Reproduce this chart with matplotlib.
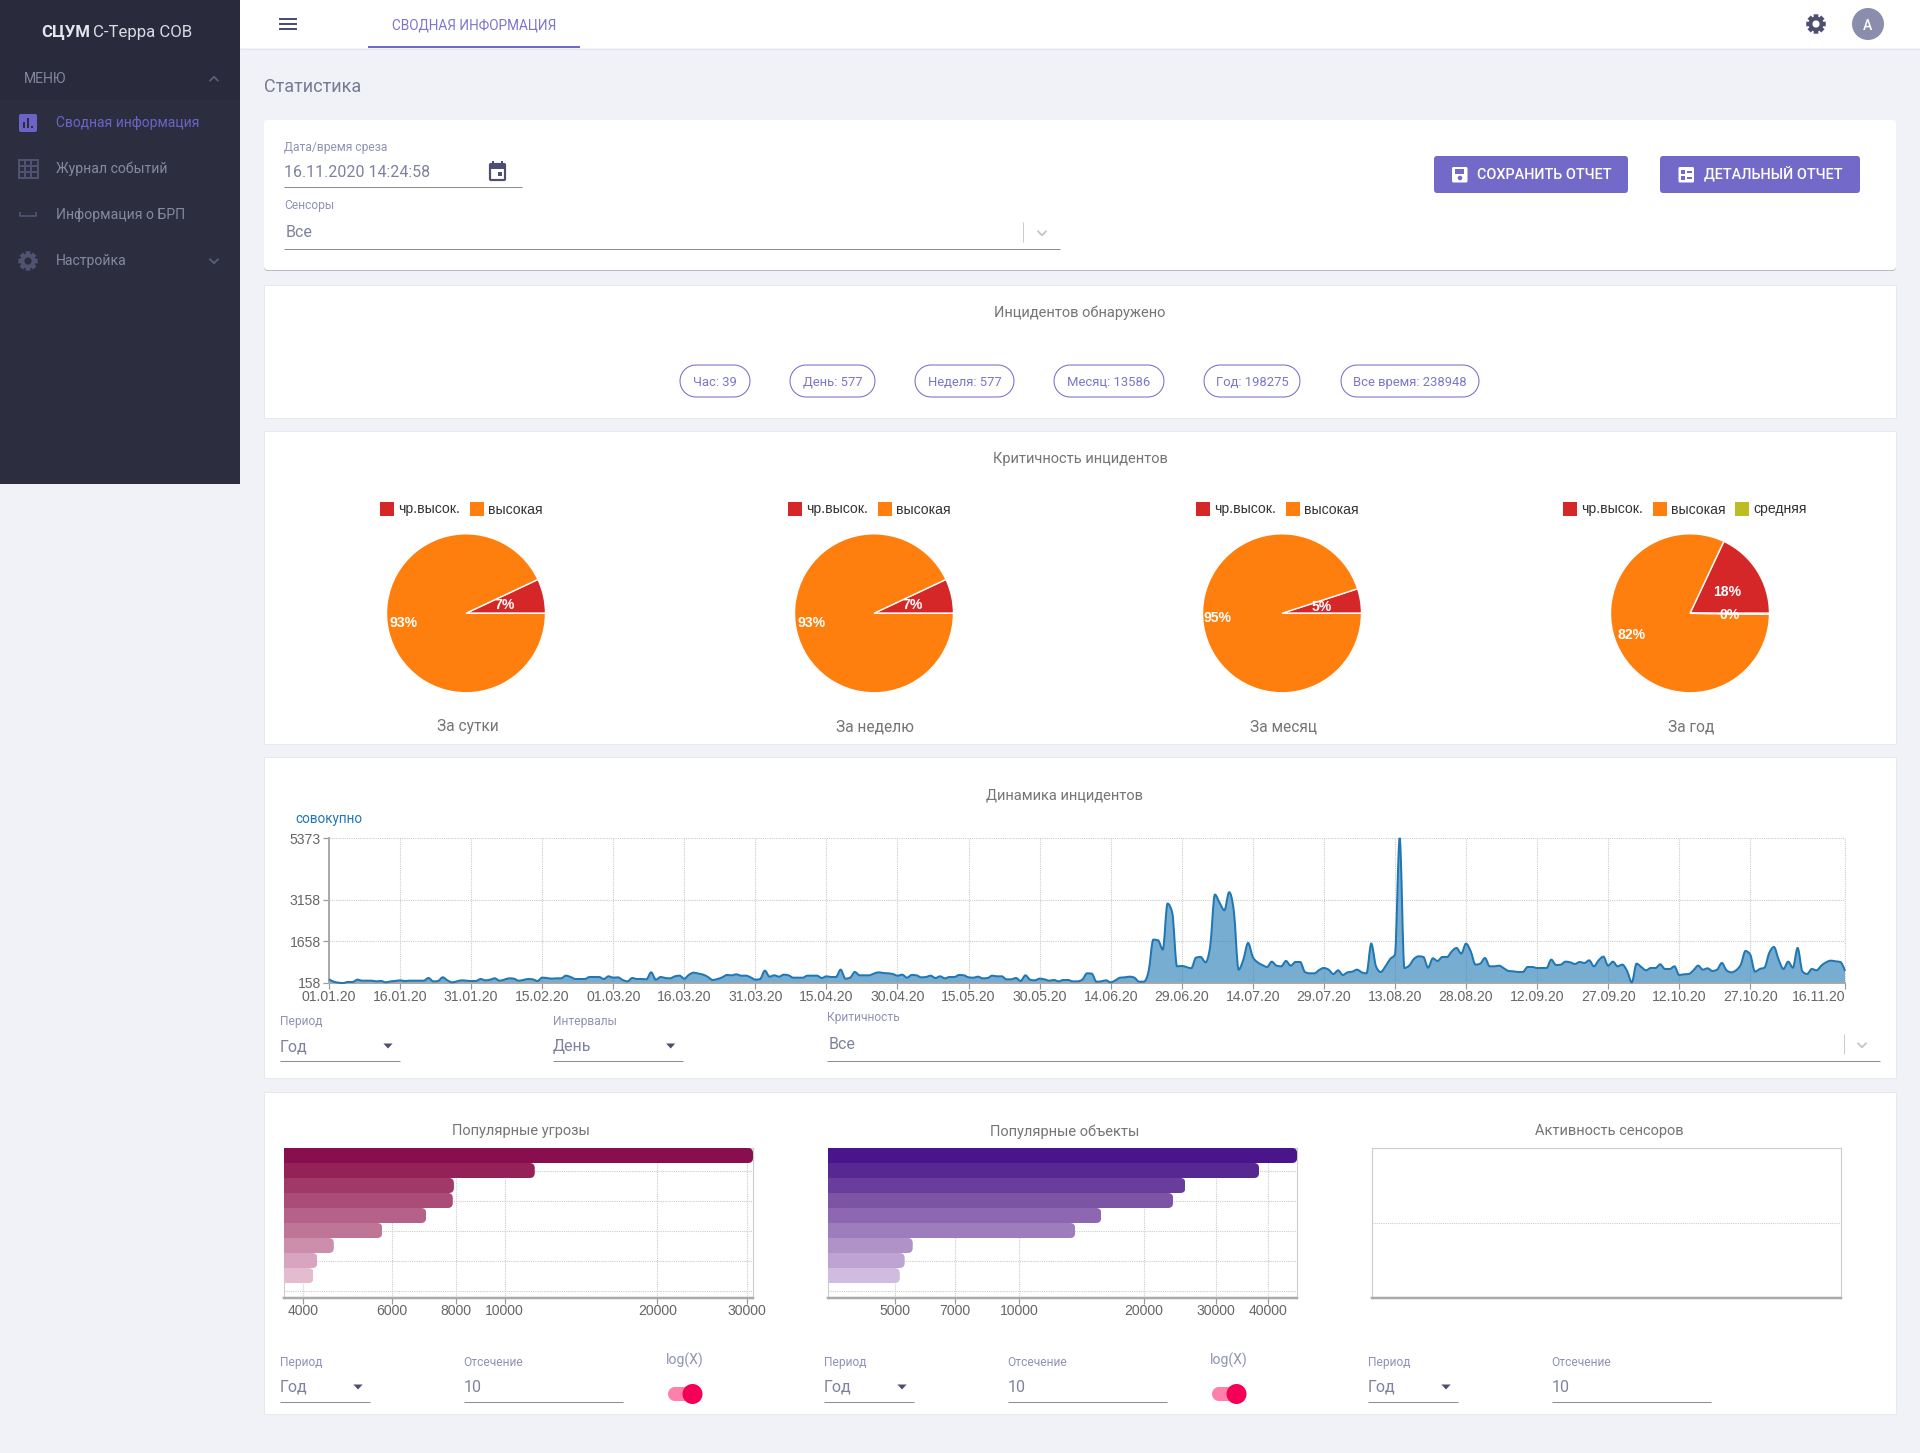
import numpy as np
import pandas as pd
import matplotlib
matplotlib.use("Agg")
import matplotlib.pyplot as plt
import matplotlib.ticker
from matplotlib.patches import FancyBboxPatch, Rectangle, Circle, Polygon, PathPatch
from matplotlib.path import Path
from matplotlib.transforms import IdentityTransform
import matplotlib.dates as mdates

plt.rcParams['font.family'] = ['Roboto', 'DejaVu Sans']

# ---------- data ----------
pie_titles = ['За сутки', 'За неделю', 'За месяц', 'За год']
pie_names = ['чр.высок.', 'высокая', 'средняя']
pie_colors = ['#d62728', '#ff7f0e', '#bcbd22']
pie_values = [[7, 93], [7, 93], [5, 95], [18, 81.8, 0.2]]
pie_labels = [['7%', '93%'], ['7%', '93%'], ['5%', '95%'], ['18%', '82%', '0%']]

incident_chips = ['Час: 39', 'День: 577', 'Неделя: 577', 'Месяц: 13586', 'Год: 198275', 'Все время: 238948']

line_start = '2020-01-01'
line_tick_labels = ['01.01.20', '16.01.20', '31.01.20', '15.02.20', '01.03.20', '16.03.20', '31.03.20',
                    '15.04.20', '30.04.20', '15.05.20', '30.05.20', '14.06.20', '29.06.20', '14.07.20',
                    '29.07.20', '13.08.20', '28.08.20', '12.09.20', '27.09.20', '12.10.20', '27.10.20', '16.11.20']
line_y_ticks = [158, 1658, 3158, 5373]
incidents = [
    290, 206, 170, 158, 194, 194, 278, 242, 242, 242, 218, 230, 182, 218, 230, 254,
    230, 242, 242, 242, 242, 338, 218, 230, 362, 254, 182, 218, 254, 242, 230,
    230, 302, 254, 278, 326, 242, 278, 326, 314, 242, 266, 302, 290, 230, 350,
    338, 314, 326, 326, 422, 374, 302, 302, 302, 374, 374, 374, 302, 398, 350,
    362, 266, 218, 338, 302, 302, 290, 542, 278, 374, 338, 326, 398, 422, 314,
    458, 530, 494, 458, 374, 266, 302, 362, 446, 434, 470, 422, 422, 362, 278,
    302, 602, 386, 434, 386, 458, 434, 350, 350, 350, 422, 422, 422, 338, 398,
    374, 374, 638, 314, 350, 554, 434, 434, 434, 494, 542, 518, 506, 482, 422,
    458, 350, 446, 434, 362, 374, 422, 338, 398, 326, 374, 374, 446, 434, 362,
    350, 386, 326, 338, 422, 398, 398, 290, 290, 338, 230, 434, 278, 254, 314,
    290, 242, 266, 218, 266, 266, 218, 218, 278, 506, 494, 206, 218, 254, 182,
    254, 350, 362, 386, 350, 206, 206, 578, 1718, 1694, 1358, 3014, 2678, 758, 770,
    734, 686, 1070, 1094, 902, 1478, 3338, 3038, 2774, 3422, 2738, 638, 998, 1598, 1094,
    902, 806, 734, 926, 782, 758, 950, 782, 914, 914, 554, 506, 506, 626,
    698, 638, 482, 614, 446, 542, 566, 638, 542, 506, 1574, 758, 554, 758, 1022, 1178,
    5373,
    698, 782, 1022, 1118, 1094, 710, 1046, 950, 1094, 1094, 1298, 1418, 1214, 1574,
    1298, 818, 854, 1058, 758, 758, 782, 686, 590, 578, 554, 554, 734, 734, 698,
    698, 698, 998, 806, 818, 926, 902, 842, 914, 878, 974, 758, 974, 1106, 782,
    926, 758, 818, 590, 182, 854, 734, 614, 698, 698, 830, 662, 662, 758, 446,
    470, 482, 614, 782, 638, 686, 590, 638, 878, 614, 542, 614, 818, 1310, 1178,
    566, 662, 710, 1238, 1454, 998, 662, 926, 710, 1418, 578, 482, 662, 614, 782, 902, 962, 938, 914, 590,
]

threat_values = [30855, 11460, 7940, 7900, 7000, 5735, 4604, 4271, 4198]
threat_colors = ['#880e4f', '#942259', '#a03868', '#ab4c78', '#b56189', '#bf7596', '#cc8eac', '#d8a4bf', '#e5bbd0']
threat_ticks = [4000, 6000, 8000, 10000, 20000, 30000]
threat_xlim = (3674, 30855)
object_values = [47050, 38060, 25240, 23570, 15790, 13660, 5525, 5283, 5140]
object_colors = ['#4a148c', '#572891', '#693d9c', '#7b54a6', '#8e67b3', '#9d7dbd', '#ae92c8', '#bda4d3', '#d0bbe1']
object_ticks = [5000, 7000, 10000, 20000, 30000, 40000]
object_xlim = (3444, 47050)

# ---------- palette ----------
BG = '#f0f2f7'
SIDE = '#2c2e40'
SIDE_TOP = '#292b3c'
ACC = '#7069c6'
LABEL = '#8f92b3'
VAL = '#7f829f'
TITLE = '#757575'
ICON = '#4c4f70'
RULE = '#8d8d8d'
GRID = '#cccccc'
TICKTXT = '#666666'
MONO = 'Liberation Sans'

W, H = 1920, 1453
fig = plt.figure(figsize=(W / 100, H / 100), dpi=100, facecolor=BG)
ui = fig.add_axes([0, 0, 1, 1], zorder=0)
ui.set_xlim(0, W)
ui.set_ylim(H, 0)
ui.axis('off')


def px(v):
    return v * 0.72


def T(x, y, s, size=14, color=VAL, ha='left', weight='normal', family=None, **kw):
    ui.text(x, y, s, fontsize=px(size), color=color, ha=ha, va='center_baseline', fontweight=weight,
            family=family if family else ['Roboto', 'DejaVu Sans'], **kw)


def R(x0, y0, x1, y1, color, r=0, ec='none', lw=0, z=1, fill=True):
    if r:
        p = FancyBboxPatch((x0, y0), x1 - x0, y1 - y0, boxstyle=f'round,pad=0,rounding_size={r}',
                           fc=color if fill else 'none', ec=ec, lw=px(lw), zorder=z)
    else:
        p = Rectangle((x0, y0), x1 - x0, y1 - y0, fc=color if fill else 'none', ec=ec, lw=px(lw), zorder=z)
    ui.add_patch(p)


def pill(x0, y0, x1, y1, color, ec='none', lw=0, z=2):
    r = (y1 - y0) / 2
    a = np.linspace(-np.pi / 2, np.pi / 2, 24)
    pts = [(x1 - r + r * np.cos(t), y0 + r + r * np.sin(t)) for t in a]
    pts += [(x0 + r - r * np.cos(t), y0 + r - r * np.sin(t)) for t in a]
    ui.add_patch(Polygon(pts, closed=True, fc=color, ec=ec, lw=px(lw), zorder=z))


def L(xs, ys, color, lw=1.0, z=2, **kw):
    ui.plot(xs, ys, color=color, lw=px(lw), zorder=z, solid_capstyle='butt', **kw)


def tri(x, y, color=ICON, w=4.6, h=5):
    ui.add_patch(Polygon([(x - w, y - h / 2), (x + w, y - h / 2), (x, y + h / 2)], fc=color, ec='none', zorder=3))


def chev(x, y, color, up=False, s=4.5):
    d = -1 if up else 1
    L([x - s, x, x + s], [y - d * s / 2, y + d * s / 2, y - d * s / 2], color, lw=1.8)


def gear(x, y, r, color, hole):
    n = 8
    pts = []
    for i in range(n):
        a = 2 * np.pi * i / n
        for da, rr in [(-0.24, 1.0), (0.24, 1.0), (0.30, 0.76), (2 * np.pi / n - 0.30, 0.76)]:
            pts.append((x + r * rr * np.cos(a + da), y + r * rr * np.sin(a + da)))
    ui.add_patch(Polygon(pts, fc=color, ec='none', zorder=3))
    ui.add_patch(Circle((x, y), r * 0.36, fc=hole, ec='none', zorder=4))


def chart_ax(l, t, r, b):
    ax = fig.add_axes([l / W, 1 - b / H, (r - l) / W, (b - t) / H], zorder=2)
    ax.patch.set_alpha(0)
    return ax


# ---------- page chrome ----------
R(240, 0, W, 48, 'white')
L([240, W], [48.5, 48.5], '#e4e6ee', lw=1)
R(368, 46, 580, 48, ACC, z=3)
R(0, 0, 240, 484, SIDE)
R(0, 0, 240, 100, SIDE_TOP, z=1.5)

T(41.5, 31, 'СЦУМ', 16.7, '#e4e6ee', weight='bold')
T(93.2, 31, 'С-Терра СОВ', 16.7, '#d8dae4')
T(24, 77.5, 'МЕНЮ', 14, '#83869f')
chev(214, 79, '#5b5e78', up=True)
T(56, 122, 'Сводная информация', 13.9, '#6a63c8')
T(56, 167.7, 'Журнал событий', 14, '#85889f')
T(56, 214, 'Информация о БРП', 14, '#85889f')
T(56, 260, 'Настройка', 14, '#85889f')
chev(214, 261, '#5b5e78')
R(19, 114, 37, 132, '#6a63c8', r=2, z=3)
for bx, bt in [(24, 122), (28, 118), (32, 126)]:
    R(bx - 0.8, bt, bx + 0.8, 128, SIDE, z=4)
R(18.5, 159.5, 37.5, 178, 'none', ec='#4f5270', lw=2, z=3, fill=False)
for f in (1 / 3, 2 / 3):
    L([18.5, 37.5], [159.5 + 18.5 * f] * 2, '#4f5270', lw=2, z=3)
    L([18.5 + 19 * f] * 2, [159.5, 178], '#4f5270', lw=2, z=3)
L([20, 20, 36, 36], [212, 216, 216, 212], '#4f5270', lw=1.8, z=3)
gear(28, 261, 10, '#4f5270', SIDE)

for yy in (19, 24, 29):
    L([279, 297], [yy, yy], ICON, lw=2, z=3)
T(474, 23.5, 'СВОДНАЯ ИНФОРМАЦИЯ', 13.6, '#7b76c9', ha='center')
gear(1816, 24, 10, ICON, 'white')
ui.add_patch(Circle((1868, 24), 16, fc='#8a8dab', ec='none', zorder=3))
T(1868, 24, 'А', 14, 'white', ha='center', weight='medium', zorder=4)
T(264, 85, 'Статистика', 18, '#777a93')

# ---------- cards ----------
R(264, 122, 1896, 271, '#b9bac2', r=4, z=0.8)
R(264, 120, 1896, 270, 'white', r=4)
for t, b in [(285, 417.5), (431, 743.5), (757, 1078), (1092, 1414)]:
    R(264, t, 1896, b, 'white', ec='#e6e8ef', lw=1)

# card 1 controls
T(284, 146, 'Дата/время среза', 12, LABEL)
T(284, 171, '16.11.2020 14:24:58', 16, VAL)
L([284, 522], [187, 187], RULE)
R(490, 164, 505, 180, 'none', ec=ICON, lw=2.2, r=1, z=3, fill=False)
R(489, 164, 506, 168.5, ICON, z=3)
R(498, 172, 502, 176, ICON, z=3)
L([493, 493], [160.5, 164], ICON, lw=2, z=3)
L([502, 502], [160.5, 164], ICON, lw=2, z=3)
T(284, 204, 'Сенсоры', 12, LABEL)
T(286, 231, 'Все', 16, VAL)
L([284, 1060], [249, 249], RULE)
L([1022.5, 1022.5], [222, 242], '#cccccc')
chev(1042, 233, '#c4c4c4')

for x0, x1, s, tx, ic in [(1434, 1628, 'СОХРАНИТЬ ОТЧЕТ', 1477, 1452), (1660, 1860, 'ДЕТАЛЬНЫЙ ОТЧЕТ', 1703.5, 1678.5)]:
    R(x0, 156, x1, 193, '#7269c8', r=3)
    T(tx, 173.5, s, 14.4, 'white', weight='medium', zorder=4)
    R(ic, 167, ic + 15.5, 182.5, 'white', r=1.5, z=3)
R(1455, 169, 1464, 173.5, '#7269c8', z=4)
ui.add_patch(Circle((1460, 178), 2.3, fc='#7269c8', ec='none', zorder=4))
for (a, b, c, d) in [(1681, 1685, 170, 174), (1681, 1685, 176, 180), (1687, 1692, 171, 173), (1687, 1692, 177, 179)]:
    R(a, c, b, d, '#7269c8', z=4)

# card 2
T(1080, 311, 'Инцидентов обнаружено', 14.6, TITLE, ha='center')
chip_x = [(680, 750), (790, 875), (915, 1014), (1054, 1164), (1204, 1300), (1341, 1479)]
for (a, b), s in zip(chip_x, incident_chips):
    pill(a, 365, b, 397, 'white', ec=ACC, lw=1, z=2)
    T((a + b) / 2, 381, s, 13, '#7b76c9', ha='center', zorder=3)

# ---------- pies ----------
T(1080, 458, 'Критичность инцидентов', 14.6, TITLE, ha='center')
pie_cx = [466, 874, 1282, 1690]
PIE_R = 79.5
PIE_Y = 613.3
swatch_off = [[-86, 4], [-86, 4], [-86, 4], [-127, -37, 45]]
text_off = [[-68, 22], [-68, 22], [-68, 22], [-109, -19, 63.3]]
big_shift = [-4, -4, -4.6, -12]
big_rad = [0.80, 0.80, 0.82, 0.78]
for i, cx in enumerate(pie_cx):
    ax = chart_ax(cx - PIE_R, PIE_Y - PIE_R, cx + PIE_R, PIE_Y + PIE_R)
    wedges, _ = ax.pie(pie_values[i], colors=pie_colors[:len(pie_values[i])], startangle=0, counterclock=True,
                       radius=1, wedgeprops=dict(edgecolor='white', linewidth=1.0))
    ax.set_xlim(-1, 1)
    ax.set_ylim(-1, 1)
    ax.set_aspect('equal')
    for w, lab, val in zip(wedges, pie_labels[i], pie_values[i]):
        mid = (w.theta1 + w.theta2) / 2
        share = val / sum(pie_values[i])
        if share > 0.5:
            rr, ang = big_rad[i], mid + big_shift[i]
        elif share < 0.01:
            rr, ang = 0.5, -2
        else:
            rr, ang = (0.54, mid - 3) if share > 0.1 else (0.5, mid)
        ax.text(rr * np.cos(np.deg2rad(ang)), rr * np.sin(np.deg2rad(ang)), lab, color='white', fontsize=px(14),
                ha='center', va='center', family=MONO, fontweight='bold', clip_on=False)
    for j, (so, to) in enumerate(zip(swatch_off[i], text_off[i])):
        R(cx + so, 502, cx + so + 14, 516, pie_colors[j])
        T(cx + to, 508, pie_names[j], 14, '#333333', family=MONO)
    T(cx + 1.5, 725, pie_titles[i], 15.5, TITLE, ha='center')

# ---------- line chart ----------
T(1065, 794.2, 'Динамика инцидентов', 14.6, TITLE, ha='center')
T(295.7, 818, 'совокупно', 13.5, '#1f77b4')
ax = chart_ax(329, 838, 1845, 983)
dates = pd.date_range(line_start, periods=len(incidents))
xs = mdates.date2num(dates.to_pydatetime())
ys = np.array(incidents, dtype=float)
sec = np.diff(ys)
tang = np.zeros_like(ys)
for i in range(1, len(ys) - 1):
    s0, s1 = sec[i - 1], sec[i]
    tang[i] = (np.sign(s0) + np.sign(s1)) * min(abs(s0), abs(s1), 0.5 * abs((s0 + s1) / 2))
tang[0] = (3 * sec[0] - tang[1]) / 2
tang[-1] = (3 * sec[-1] - tang[-2]) / 2
verts = [(xs[0], ys[0])]
codes = [Path.MOVETO]
for i in range(len(ys) - 1):
    verts += [(xs[i] + 1 / 3, ys[i] + tang[i] / 3), (xs[i + 1] - 1 / 3, ys[i + 1] - tang[i + 1] / 3), (xs[i + 1], ys[i + 1])]
    codes += [Path.CURVE4] * 3
base = line_y_ticks[0]
fill_verts = verts + [(xs[-1], base), (xs[0], base), (xs[0], ys[0])]
fill_codes = codes + [Path.LINETO, Path.LINETO, Path.CLOSEPOLY]
ax.add_patch(PathPatch(Path(fill_verts, fill_codes), fc='#1f77b4', ec='none', alpha=0.6, zorder=2))
ax.add_patch(PathPatch(Path(verts, codes), fc='none', ec='#1f77b4', lw=px(2.0), zorder=3, clip_on=False))
ax.plot(xs[[0, -1]], [base, base], color='#1f77b4', lw=px(1.2), alpha=0.6, zorder=3)
tick_dates = pd.to_datetime(line_tick_labels, format='%d.%m.%y')
ax.set_xlim(xs[0], xs[-1])
ax.set_ylim(base, line_y_ticks[-1])
ax.set_xticks(mdates.date2num(tick_dates.to_pydatetime()))
ax.set_xticklabels(line_tick_labels, family=MONO, fontsize=px(14), color=TICKTXT)
ax.get_xticklabels()[-1].set_ha('right')
ax.set_yticks(line_y_ticks)
ax.set_yticklabels([str(v) for v in line_y_ticks], family=MONO, fontsize=px(14), color=TICKTXT)
ax.grid(True, color=GRID, lw=px(1.1), ls=(0, (1, 1)), zorder=1)
ax.set_axisbelow(True)
ax.tick_params(axis='x', length=4, width=px(1.2), color='#999999', pad=1)
ax.tick_params(axis='y', length=4, width=px(1.2), color='#999999', pad=2)
for s in ('top', 'right'):
    ax.spines[s].set_visible(False)
for s in ('left', 'bottom'):
    ax.spines[s].set_color('#aaaaaa')
    ax.spines[s].set_linewidth(px(2))
ax.plot([xs[-1], xs[-1]], [base, line_y_ticks[-1]], color=GRID, lw=px(1.1), ls=(0, (1, 1)), zorder=1, clip_on=False)

T(280, 1020, 'Период', 12, LABEL)
T(280, 1045.2, 'Год', 16, VAL)
L([280, 400], [1061, 1061], RULE)
tri(388, 1046)
T(553, 1020, 'Интервалы', 12, LABEL)
T(553, 1045.2, 'День', 16, VAL)
L([553, 683], [1061, 1061], RULE)
tri(670.7, 1046)
T(827, 1016, 'Критичность', 12, LABEL)
T(829, 1043, 'Все', 16, VAL)
L([827, 1880], [1061, 1061], RULE)
L([1843.7, 1843.7], [1034, 1054], '#cccccc')
chev(1862, 1045, '#c4c4c4')


def dotted_frame(ax):
    for s in ('top', 'left', 'right'):
        ax.spines[s].set_color(GRID)
        ax.spines[s].set_linewidth(px(1.1))
        ax.spines[s].set_linestyle((0, (1, 1)))
    ax.spines['bottom'].set_color('#aaaaaa')
    ax.spines['bottom'].set_linewidth(px(2.5))


# ---------- bar charts ----------
def bar_chart(l, r, values, colors, ticks, xlim, title, tcx):
    T(tcx, 1130, title, 14.6, TITLE, ha='center')
    ax = chart_ax(l, 1148, r, 1298)
    ax.set_xscale('log')
    ax.set_xlim(*xlim)
    ax.set_ylim(9.5, -0.5)
    bars = ax.barh(range(len(values)), [v - xlim[0] for v in values], left=xlim[0], height=1.0, color=colors,
                   edgecolor='none', zorder=3)
    fig.canvas.draw()
    for b, v in zip(bars, values):
        x1, y0 = ax.transData.transform((v, b.get_y()))
        x0, y1 = ax.transData.transform((xlim[0], b.get_y() + b.get_height()))
        clip = FancyBboxPatch((x0 - 20, y1), x1 - x0 + 20, y0 - y1, boxstyle='round,pad=0,rounding_size=5',
                              transform=IdentityTransform(), fc='none', ec='none')
        b.set_clip_path(clip)
    ax.set_xticks(ticks)
    ax.set_xticklabels([str(t) for t in ticks], family=MONO, fontsize=px(14), color=TICKTXT)
    ax.xaxis.set_minor_locator(matplotlib.ticker.NullLocator())
    ax.set_yticks([1, 3, 5, 7, 9])
    ax.set_yticklabels([])
    ax.grid(True, color=GRID, lw=px(1.1), ls=(0, (1, 1)), zorder=1)
    ax.set_axisbelow(True)
    ax.tick_params(axis='x', length=4, width=px(1.2), color='#999999', pad=0.5)
    ax.tick_params(axis='y', length=0)
    dotted_frame(ax)


bar_chart(284.1, 753, threat_values, threat_colors, threat_ticks, threat_xlim, 'Популярные угрозы', 521)
bar_chart(827.9, 1297.1, object_values, object_colors, object_ticks, object_xlim, 'Популярные объекты', 1064.8)

T(1609, 1130, 'Активность сенсоров', 14.6, TITLE, ha='center')
ax = chart_ax(1371.8, 1148, 1840.6, 1298)
ax.set_xticks([])
ax.set_yticks([0.5])
ax.set_yticklabels([])
ax.set_ylim(0, 1)
ax.grid(True, axis='y', color=GRID, lw=px(1.1), ls=(0, (1, 1)))
ax.tick_params(axis='y', length=0)
dotted_frame(ax)

for off, tog in [(0, True), (544, True), (1088, False)]:
    T(280 + off, 1360.7, 'Период', 12, LABEL)
    T(280 + off, 1386, 'Год', 16, VAL)
    L([280 + off, 370 + off], [1402, 1402], RULE)
    tri(358 + off, 1387)
    T(463.5 + off, 1360.7, 'Отсечение', 12, LABEL)
    T(463.5 + off, 1386, '10', 16, VAL)
    L([463.5 + off, 623 + off], [1402, 1402], RULE)
    if tog:
        T(684.8 + off, 1358.5, 'log(X)', 14, LABEL, ha='center')
        pill(668 + off, 1387, 696 + off, 1401, '#ff80ab', z=3)
        ui.add_patch(Circle((692.5 + off, 1394), 10, fc='#f50057', ec='none', zorder=4))

fig.savefig('out.png', dpi=100, facecolor=BG)
